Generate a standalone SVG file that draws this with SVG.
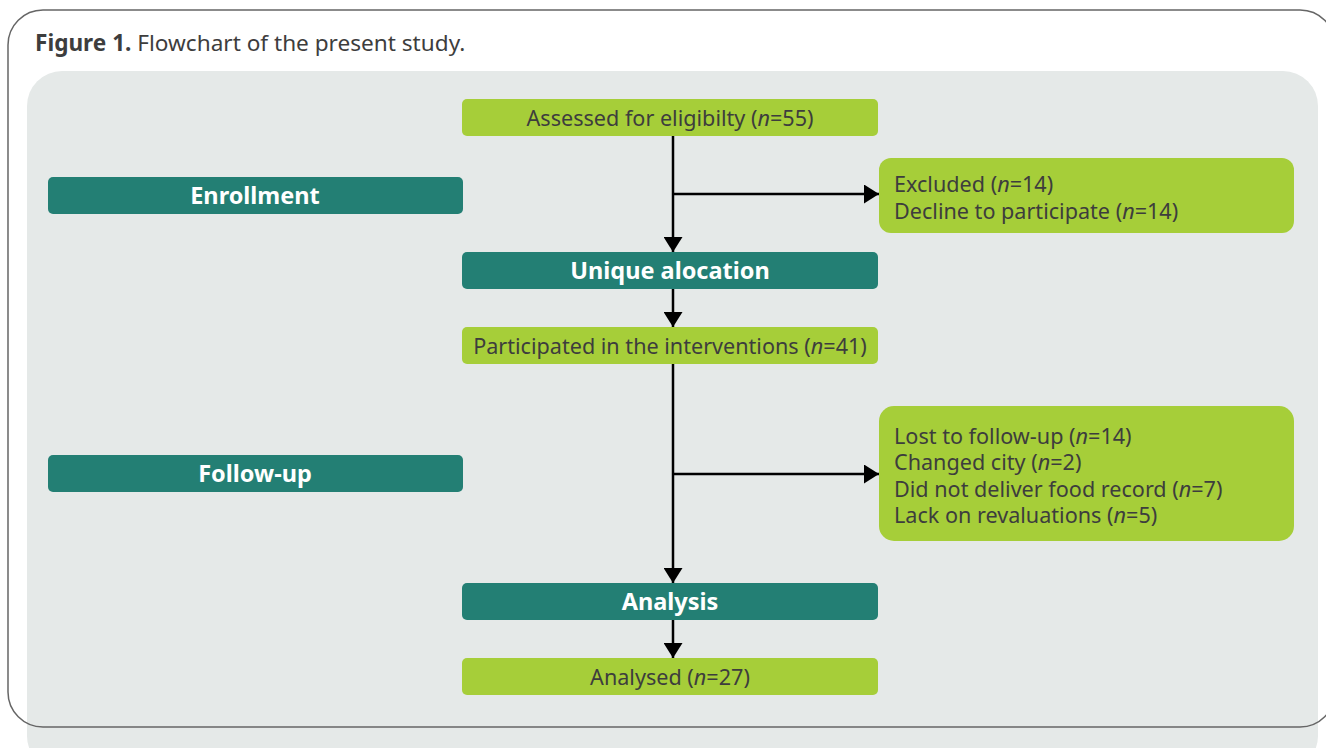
<svg xmlns="http://www.w3.org/2000/svg" width="1326" height="748" viewBox="0 0 1326 748">
<defs>
<marker id="ah" markerWidth="15" markerHeight="19" viewBox="0 0 15 19" refX="15" refY="9.5" orient="auto" markerUnits="userSpaceOnUse">
<path d="M0,0 L15,9.5 L0,19 Z" fill="#000"/>
</marker>
<style>
.lime{fill:#a6ce39}
.teal{fill:#237f74}
.t{font-family:"Noto Sans","Open Sans",sans-serif;font-size:21.6px;fill:#3d3d3d}
.h{font-family:"Noto Sans","Open Sans",sans-serif;font-size:23.5px;font-weight:bold;fill:#fff;text-anchor:middle}
.c{text-anchor:middle}
.conn{stroke:#000;stroke-width:2.5;fill:none}
</style>
</defs>
<rect x="0" y="0" width="1326" height="748" fill="#fff"/>
<rect x="27" y="71" width="1291" height="700" rx="35" fill="#e5e9e8"/>
<rect x="8" y="10" width="1327" height="717" rx="35" fill="none" stroke="#666" stroke-width="1.5"/>
<text x="35" y="51" class="t" style="font-size:22.6px"><tspan font-weight="bold">Figure 1.</tspan> Flowchart of the present study.</text>

<g id="connectors">
<line class="conn" x1="673" y1="136" x2="673" y2="252" marker-end="url(#ah)"/>
<line class="conn" x1="673" y1="194" x2="879" y2="194" marker-end="url(#ah)"/>
<line class="conn" x1="673" y1="289" x2="673" y2="327" marker-end="url(#ah)"/>
<line class="conn" x1="673" y1="364" x2="673" y2="583" marker-end="url(#ah)"/>
<line class="conn" x1="673" y1="474" x2="879" y2="474" marker-end="url(#ah)"/>
<line class="conn" x1="673" y1="620" x2="673" y2="658" marker-end="url(#ah)"/>
</g>

<g id="assessed">
<rect class="lime" x="462" y="99" width="416" height="37" rx="5"/>
<text class="t c" x="670" y="126">Assessed for eligibilty (<tspan font-style="italic">n</tspan>=55)</text>
</g>
<g id="enrollment">
<rect class="teal" x="48" y="177" width="415" height="37" rx="5"/>
<text class="h" x="255" y="204">Enrollment</text>
</g>
<g id="excluded">
<rect class="lime" x="879" y="158" width="415" height="75" rx="12"/>
<text class="t" x="894" y="192">Excluded (<tspan font-style="italic">n</tspan>=14)</text>
<text class="t" x="894" y="219">Decline to participate (<tspan font-style="italic">n</tspan>=14)</text>
</g>
<g id="unique">
<rect class="teal" x="462" y="252" width="416" height="37" rx="5"/>
<text class="h" x="670" y="279">Unique alocation</text>
</g>
<g id="participated">
<rect class="lime" x="462" y="327" width="416" height="37" rx="5"/>
<text class="t c" x="670" y="354">Participated in the interventions (<tspan font-style="italic">n</tspan>=41)</text>
</g>
<g id="lost">
<rect class="lime" x="879" y="406" width="415" height="135" rx="15"/>
<text class="t" x="894" y="444">Lost to follow-up (<tspan font-style="italic">n</tspan>=14)</text>
<text class="t" x="894" y="470">Changed city (<tspan font-style="italic">n</tspan>=2)</text>
<text class="t" x="894" y="497">Did not deliver food record (<tspan font-style="italic">n</tspan>=7)</text>
<text class="t" x="894" y="523">Lack on revaluations (<tspan font-style="italic">n</tspan>=5)</text>
</g>
<g id="followup">
<rect class="teal" x="48" y="455" width="415" height="37" rx="5"/>
<text class="h" x="255" y="482">Follow-up</text>
</g>
<g id="analysis">
<rect class="teal" x="462" y="583" width="416" height="37" rx="5"/>
<text class="h" x="670" y="610">Analysis</text>
</g>
<g id="analysed">
<rect class="lime" x="462" y="658" width="416" height="37" rx="5"/>
<text class="t c" x="670" y="685">Analysed (<tspan font-style="italic">n</tspan>=27)</text>
</g>
</svg>
